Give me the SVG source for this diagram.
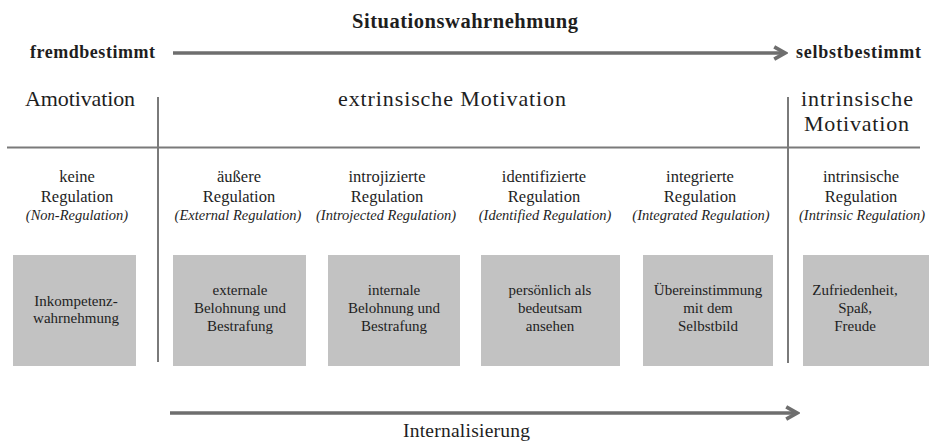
<svg xmlns="http://www.w3.org/2000/svg" width="932" height="446" viewBox="0 0 932 446" font-family="'Liberation Serif', 'DejaVu Serif', serif">
<style>
text{font-family:'Liberation Serif','DejaVu Serif',serif;fill:#1e1e1e;text-anchor:middle}
.b{font-weight:bold}
.h{font-size:22px}
.r{font-size:16.5px}
.i{font-size:14.5px;font-style:italic}
.t{font-size:15px}
.box{fill:#c2c2c2}
.div{stroke:#7a7a7a;stroke-width:2;fill:none}
.arr{stroke:#6e6e6e;stroke-width:3.5;fill:none}
</style>
<defs>
<marker id="ah" viewBox="0 0 10 10" refX="8" refY="5" markerWidth="4.4" markerHeight="4.4" markerUnits="strokeWidth" orient="auto">
<path d="M1,1 L8,5 L1,9" fill="none" stroke="#6e6e6e" stroke-width="2.4" stroke-linejoin="miter"/>
</marker>
</defs>
<g id="connectors">
<line class="arr" x1="173" y1="53" x2="785" y2="53" marker-end="url(#ah)"/>
<line class="arr" x1="170" y1="413" x2="797" y2="413" marker-end="url(#ah)"/>
<line class="div" x1="7" y1="147.5" x2="920" y2="147.5"/>
<line class="div" x1="158" y1="97" x2="158" y2="362"/>
<line class="div" x1="788" y1="97" x2="788" y2="363"/>
</g>
<g id="title"><text class="b" x="465" y="28" font-size="20.5" textLength="226">Situationswahrnehmung</text></g>
<g id="fremd"><text class="b" x="92.5" y="58" font-size="18" textLength="125">fremdbestimmt</text></g>
<g id="selbst"><text class="b" x="858.5" y="58" font-size="18" textLength="125">selbstbestimmt</text></g>
<g id="amotivation"><text class="h" x="80" y="106" textLength="110">Amotivation</text></g>
<g id="extrinsisch"><text class="h" x="452" y="106" textLength="228">extrinsische Motivation</text></g>
<g id="intrinsisch"><text class="h" x="857" y="106" textLength="112">intrinsische</text><text class="h" x="856.5" y="131" textLength="105">Motivation</text></g>
<g id="col1">
<text class="r" x="77" y="182">keine</text><text class="r" x="77" y="202">Regulation</text><text class="i" x="77" y="220">(Non-Regulation)</text>
<rect class="box" x="13" y="255" width="123" height="111"/>
<text class="t" x="76" y="306">Inkompetenz-</text><text class="t" x="76" y="323">wahrnehmung</text>
</g>
<g id="col2">
<text class="r" x="239" y="182">äußere</text><text class="r" x="239" y="202">Regulation</text><text class="i" x="238" y="220">(External Regulation)</text>
<rect class="box" x="173" y="255" width="133" height="111"/>
<text class="t" x="240" y="295">externale</text><text class="t" x="240" y="313">Belohnung und</text><text class="t" x="240" y="331">Bestrafung</text>
</g>
<g id="col3">
<text class="r" x="387" y="182">introjizierte</text><text class="r" x="387" y="202">Regulation</text><text class="i" x="386" y="220">(Introjected Regulation)</text>
<rect class="box" x="328" y="255" width="132" height="111"/>
<text class="t" x="394" y="295">internale</text><text class="t" x="394" y="313">Belohnung und</text><text class="t" x="394" y="331">Bestrafung</text>
</g>
<g id="col4">
<text class="r" x="544" y="182">identifizierte</text><text class="r" x="544" y="202">Regulation</text><text class="i" x="545" y="220">(Identified Regulation)</text>
<rect class="box" x="481" y="255" width="139" height="111"/>
<text class="t" x="550" y="295">persönlich als</text><text class="t" x="550" y="313">bedeutsam</text><text class="t" x="550" y="331">ansehen</text>
</g>
<g id="col5">
<text class="r" x="700" y="182">integrierte</text><text class="r" x="700" y="202">Regulation</text><text class="i" x="701" y="220">(Integrated Regulation)</text>
<rect class="box" x="643" y="255" width="130" height="111"/>
<text class="t" x="708" y="295">Übereinstimmung</text><text class="t" x="708" y="313">mit dem</text><text class="t" x="708" y="331">Selbstbild</text>
</g>
<g id="col6">
<text class="r" x="861" y="182">intrinsische</text><text class="r" x="861" y="202">Regulation</text><text class="i" x="862" y="220">(Intrinsic Regulation)</text>
<rect class="box" x="803" y="255" width="126" height="111"/>
<text class="t" x="855" y="295">Zufriedenheit,</text><text class="t" x="855" y="313">Spaß,</text><text class="t" x="855" y="331">Freude</text>
</g>
<g id="internalisierung"><text x="466.5" y="437" font-size="19.5" textLength="127">Internalisierung</text></g>
</svg>
